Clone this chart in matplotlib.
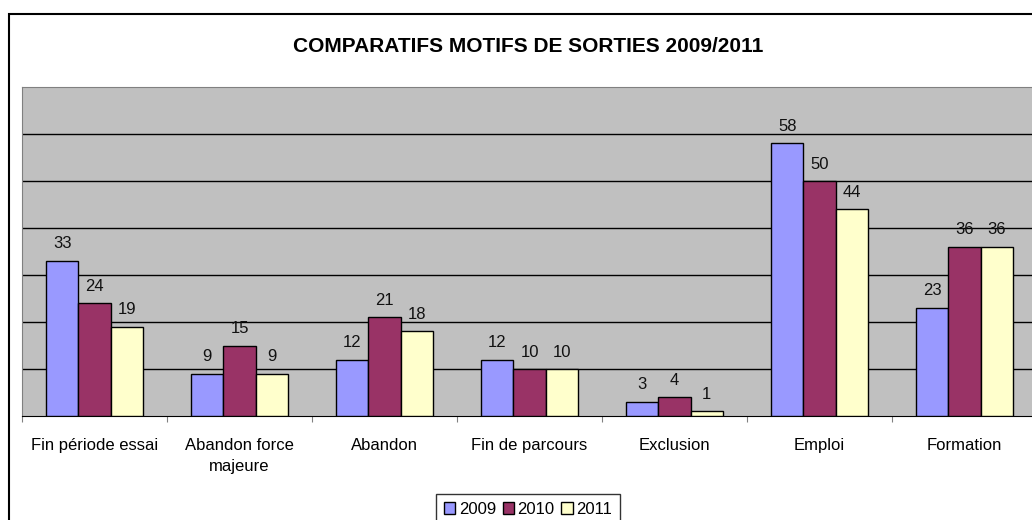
import numpy as np
import matplotlib.pyplot as plt
from matplotlib.patches import Rectangle

plt.rcParams['font.family'] = ['Liberation Sans', 'DejaVu Sans']

categories = ['Fin période essai', 'Abandon force\nmajeure', 'Abandon',
              'Fin de parcours', 'Exclusion', 'Emploi', 'Formation']
years = ['2009', '2010', '2011']
v2009 = [33, 9, 12, 12, 3, 58, 23]
v2010 = [24, 15, 21, 10, 4, 50, 36]
v2011 = [19, 9, 18, 10, 1, 44, 36]
colors = ['#9999FF', '#993366', '#FFFFCC']

W, H = 1032, 520
fig = plt.figure(figsize=(W / 100, H / 100), dpi=100)
# chart frame (extends past the right/bottom edge like the original)
fig.patches.append(Rectangle((9 / W, -0.05), 1.1, (H - 14) / H + 0.05,
                             transform=fig.transFigure, fill=False,
                             edgecolor='black', linewidth=1.5))

ax = fig.add_axes([22 / W, (H - 416) / H, 1015 / W, 329 / H])
ax.set_facecolor('#C0C0C0')

x = np.arange(len(categories))
bw = 0.223
for i, (vals, c) in enumerate(zip([v2009, v2010, v2011], colors)):
    pos = x + (i - 1) * bw
    ax.bar(pos, vals, bw, color=c, edgecolor='black', linewidth=1,
           label=years[i], zorder=3)
    for p, v in zip(pos, vals):
        ax.text(p, v + 3.6, str(v), ha='center', va='center', fontsize=12,
                color='#111111', zorder=4)

ax.set_xlim(-0.5, len(categories) - 0.5)
ax.set_ylim(0, 70)
ax.set_yticks(np.arange(10, 70, 10))
ax.yaxis.grid(True, color='black', linewidth=1)
ax.set_axisbelow(True)
ax.tick_params(axis='y', left=False, labelleft=False)
ax.set_xticks(np.arange(-0.5, len(categories), 1))
ax.set_xticklabels([])
ax.set_xticks(x, minor=True)
ax.set_xticklabels(categories, minor=True, fontsize=12, linespacing=1.5)
ax.tick_params(axis='x', which='major', length=4, color='#808080', direction='out')
ax.tick_params(axis='x', which='minor', length=0, pad=16)
for lbl in ax.get_xticklabels(minor=True):
    lbl.set_verticalalignment('top')
for s in ['top', 'left', 'right']:
    ax.spines[s].set_color('#808080')
ax.spines['bottom'].set_color('black')

fig.text(528 / W, 1 - 46 / H, 'COMPARATIFS MOTIFS DE SORTIES 2009/2011',
         ha='center', va='center', fontsize=15, fontweight='bold')

leg = fig.legend(loc='upper center', bbox_to_anchor=(528 / W, 1 - 494 / H), ncol=3,
                 frameon=True, fancybox=False, edgecolor='black', fontsize=12,
                 handlelength=0.7, handleheight=0.7, handletextpad=0.2,
                 columnspacing=0.4, borderpad=0.45, borderaxespad=0)
leg.get_frame().set_linewidth(1)

fig.savefig('out.png', dpi=100)
